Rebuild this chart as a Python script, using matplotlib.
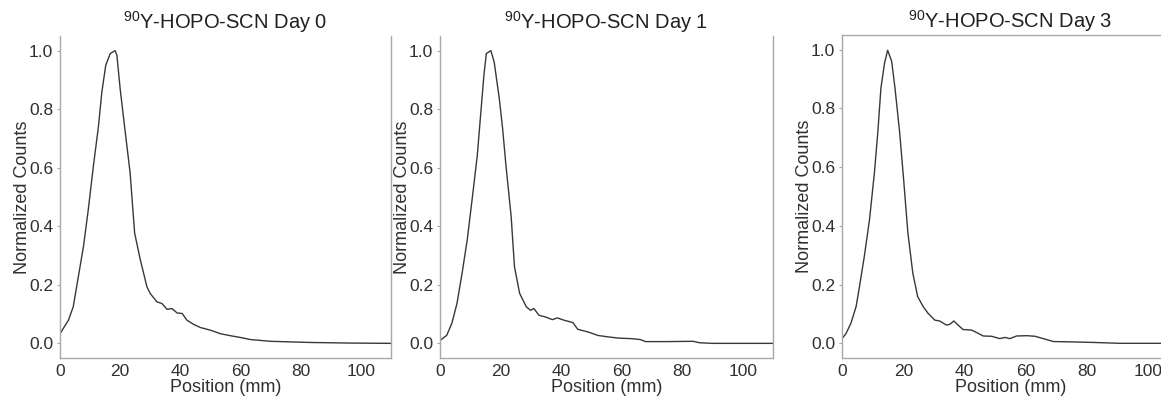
import matplotlib

matplotlib.use("Agg")

import matplotlib.pyplot as plt

plt.rcParams.update(
    {
        "font.family": ["Liberation Sans", "DejaVu Sans"],
        "mathtext.fontset": "custom",
        "mathtext.rm": "Liberation Sans",
        "mathtext.it": "Liberation Sans:italic",
        "mathtext.bf": "Liberation Sans:bold",
        "axes.linewidth": 1.0,
    }
)

day0_x = [0, 2.8, 4.4, 6.1, 7.8, 9.4, 11.1, 12.8, 13.9, 15.2, 16.7, 18.3, 18.9,
          20.0, 21.7, 23.3, 24.8, 26.7, 28.9, 30.0, 32.2, 33.9, 35.6, 37.2, 38.9,
          40.6, 42.2, 44.4, 46.7, 50.0, 53.3, 56.7, 60.0, 63.3, 66.7, 70.0, 76.7,
          83.3, 96.7, 110]
day0_y = [0.033, 0.079, 0.125, 0.228, 0.331, 0.457, 0.606, 0.743, 0.858, 0.950,
          0.990, 1.0, 0.984, 0.869, 0.72, 0.583, 0.377, 0.285, 0.193, 0.17, 0.142,
          0.136, 0.116, 0.119, 0.104, 0.102, 0.079, 0.065, 0.054, 0.045, 0.033,
          0.026, 0.020, 0.013, 0.010, 0.007, 0.005, 0.003, 0.001, 0.0]

day1_x = [0, 2.2, 3.9, 5.6, 7.3, 9.0, 10.6, 12.3, 13.4, 14.5, 15.3, 16.8, 17.9,
          19.6, 20.7, 21.8, 23.5, 24.6, 26.3, 28.5, 29.9, 31.0, 32.7, 34.9, 37.1,
          38.8, 41.0, 43.9, 45.5, 48.9, 52.2, 55.6, 59.0, 63.4, 66.2, 67.9, 74.6,
          83.6, 85.8, 90.0, 110]
day1_y = [0.010, 0.027, 0.068, 0.136, 0.24, 0.354, 0.491, 0.64, 0.778, 0.915,
          0.99, 1.0, 0.961, 0.835, 0.732, 0.606, 0.434, 0.262, 0.171, 0.125, 0.113,
          0.119, 0.096, 0.090, 0.081, 0.087, 0.079, 0.071, 0.048, 0.039, 0.027,
          0.022, 0.018, 0.016, 0.013, 0.006, 0.006, 0.007, 0.002, 0.0, 0.0]

day3_x = [0, 1.3, 2.9, 4.6, 5.7, 7.3, 9.0, 10.6, 11.7, 12.7, 13.9, 14.9, 16.2,
          17.3, 18.8, 20.1, 21.5, 23.1, 24.7, 26.5, 28.1, 30.3, 31.9, 34.1, 35.2,
          36.5, 37.9, 39.5, 42.3, 43.9, 46.1, 48.8, 51.5, 53.2, 54.8, 57.0, 60.3,
          63.0, 65.7, 69.0, 74.4, 82.0, 90.8, 110]
day3_y = [0.016, 0.033, 0.068, 0.125, 0.193, 0.297, 0.423, 0.583, 0.72, 0.869,
          0.955, 0.998, 0.961, 0.869, 0.72, 0.56, 0.377, 0.24, 0.159, 0.125, 0.102,
          0.079, 0.076, 0.062, 0.065, 0.076, 0.062, 0.047, 0.045, 0.037, 0.025,
          0.024, 0.016, 0.020, 0.016, 0.025, 0.026, 0.024, 0.016, 0.006, 0.005,
          0.003, 0.0, 0.0]

titles = ["Day 0", "Day 1", "Day 3"]
profiles = [(day0_x, day0_y), (day1_x, day1_y), (day3_x, day3_y)]

W, H = 1161, 397
fig = plt.figure(figsize=(W / 100, H / 100), dpi=100)

# axes boxes in pixels: left, right, top, bottom
boxes = [(60, 391, 36, 358), (440, 773, 36, 358), (842, 1179, 35, 358)]
spine_sets = [("left", "bottom", "right"), ("left", "bottom", "right"),
              ("left", "bottom", "right", "top")]

spine_col = "#a8a8a8"
text_col = "#303030"

for (l, r, t, b), (xs, ys), day, spines in zip(boxes, profiles, titles, spine_sets):
    ax = fig.add_axes([l / W, (H - b) / H, (r - l) / W, (b - t) / H])
    ax.plot(xs, ys, color="#383838", lw=1.0)
    ax.set_xlim(0, 110)
    ax.set_ylim(-0.05, 1.05)
    ax.set_xticks([0, 20, 40, 60, 80, 100])
    ax.set_yticks([0.0, 0.2, 0.4, 0.6, 0.8, 1.0])
    for name, sp in ax.spines.items():
        sp.set_visible(name in spines)
        sp.set_color(spine_col)
    ax.tick_params(axis="y", length=2, width=0.8, color=spine_col,
                   labelsize=12.5, labelcolor=text_col, pad=3)
    ax.tick_params(axis="x", length=0, labelsize=12.5, labelcolor=text_col, pad=4)
    ax.set_xlabel("Position (mm)", fontsize=13, color=text_col, labelpad=0)
    ax.set_ylabel("Normalized Counts", fontsize=13, color=text_col, labelpad=-1.5)
    ax.set_title(r"$^{\mathregular{90}}$Y-HOPO-SCN " + day, fontsize=14.5,
                 color="#202020", pad=5)

fig.savefig("out.png", dpi=100)
